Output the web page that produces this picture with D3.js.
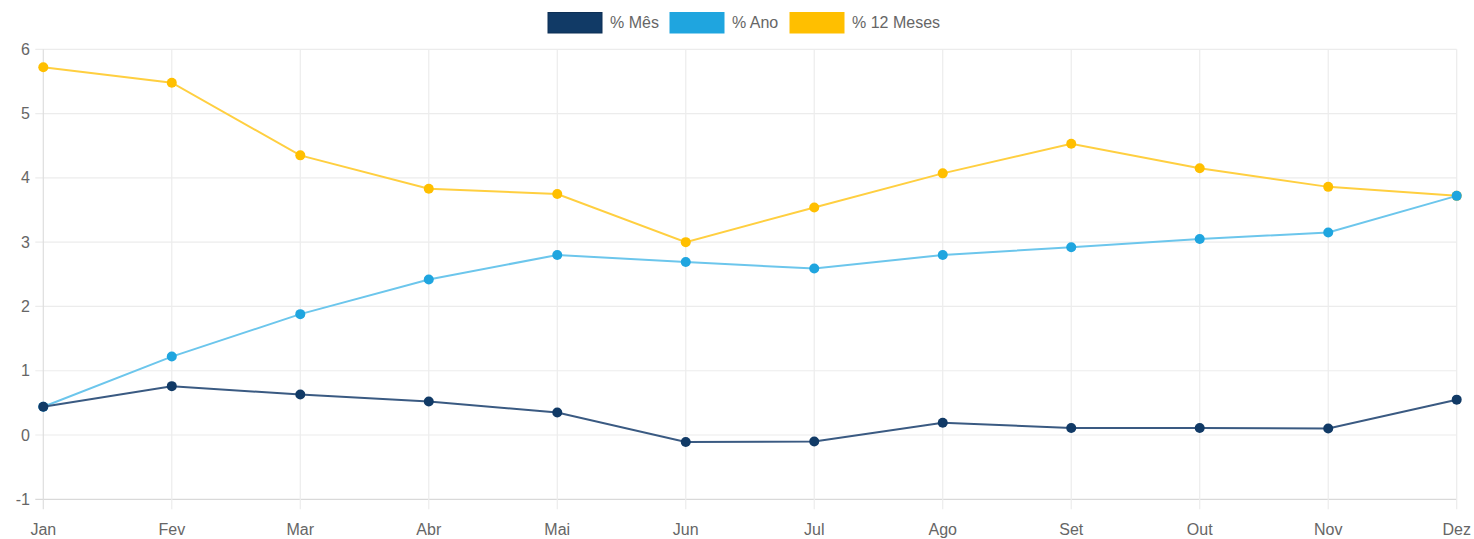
<!DOCTYPE html>
<html>
<head>
<meta charset="utf-8">
<script src="https://cdn.jsdelivr.net/npm/d3@7"></script>
<style>
  html, body { margin: 0; padding: 0; background: #fff; }
  svg { display: block; }
  text { font-family: "Liberation Sans", Arial, sans-serif; fill: #666; }
</style>
</head>
<body>
<svg id="chart" width="1474" height="539"></svg>
<script>
const months = ["Jan","Fev","Mar","Abr","Mai","Jun","Jul","Ago","Set","Out","Nov","Dez"];
const mes    = [0.44, 0.76, 0.63, 0.52, 0.35, -0.11, -0.10, 0.19, 0.11, 0.11, 0.10, 0.55];
const ano    = [0.44, 1.22, 1.88, 2.42, 2.80, 2.69, 2.59, 2.80, 2.92, 3.05, 3.15, 3.72];
const meses12 = [5.72, 5.48, 4.35, 3.83, 3.75, 3.00, 3.54, 4.07, 4.53, 4.15, 3.86, 3.72];
const yTicks = [-1, 0, 1, 2, 3, 4, 5, 6];
const seriesNames = ["% Mês", "% Ano", "% 12 Meses"];

const series = [
  { name: seriesNames[0], values: mes,     fill: "#113a66", line: "#3a5a82" },
  { name: seriesNames[1], values: ano,     fill: "#1fa5df", line: "#6cc6ec" },
  { name: seriesNames[2], values: meses12, fill: "#ffbf00", line: "#ffcf40" }
];

const svg = d3.select("#chart");
const plotL = 43.3, plotR = 1456.7, plotT = 49.3, plotB = 499.3;

const x = d3.scalePoint().domain(months).range([plotL, plotR]);
const y = d3.scaleLinear().domain([-1, 6]).range([plotB, plotT]);

// horizontal grid
const g = svg.append("g");
g.selectAll("line.h").data(yTicks).enter().append("line")
  .attr("x1", plotL - 8).attr("x2", plotR)
  .attr("y1", d => y(d)).attr("y2", d => y(d))
  .attr("stroke", d => d === -1 ? "#d9d9d9" : "#ececec").attr("stroke-width", 1.2);
// vertical grid
g.selectAll("line.v").data(months).enter().append("line")
  .attr("x1", d => x(d)).attr("x2", d => x(d))
  .attr("y1", plotT).attr("y2", plotB + 10)
  .attr("stroke", d => d === "Jan" ? "#dedede" : "#ececec").attr("stroke-width", 1.2);

// y tick labels
g.selectAll("text.yl").data(yTicks).enter().append("text")
  .attr("x", 30).attr("y", d => y(d)).attr("dy", "0.35em")
  .attr("text-anchor", "end").attr("font-size", 16)
  .text(d => d);

// x tick labels
g.selectAll("text.xl").data(months).enter().append("text")
  .attr("x", d => x(d)).attr("y", 529).attr("dy", "0.35em")
  .attr("text-anchor", "middle").attr("font-size", 16)
  .text(d => d);

const line = d3.line().x((d, i) => x(months[i])).y(d => y(d));

// draw in reverse order so the first series sits on top
series.slice().reverse().forEach(s => {
  svg.append("path").datum(s.values)
    .attr("d", line).attr("fill", "none")
    .attr("stroke", s.line).attr("stroke-width", 2);
  svg.selectAll(null).data(s.values).enter().append("circle")
    .attr("cx", (d, i) => x(months[i])).attr("cy", d => y(d))
    .attr("r", 5).attr("fill", s.fill);
});

// legend
const legendX = [548, 670, 790];
const lg = svg.append("g");
series.forEach((s, i) => {
  lg.append("rect").attr("x", legendX[i]).attr("y", 12.5)
    .attr("width", 54).attr("height", 20.5).attr("fill", s.fill)
    .attr("stroke", s.fill === "#113a66" ? "#0d2f55" : s.fill).attr("stroke-width", 1);
  lg.append("text").attr("x", legendX[i] + 62).attr("y", 22.5).attr("dy", "0.35em")
    .attr("font-size", 16).text(s.name);
});
</script>
</body>
</html>
